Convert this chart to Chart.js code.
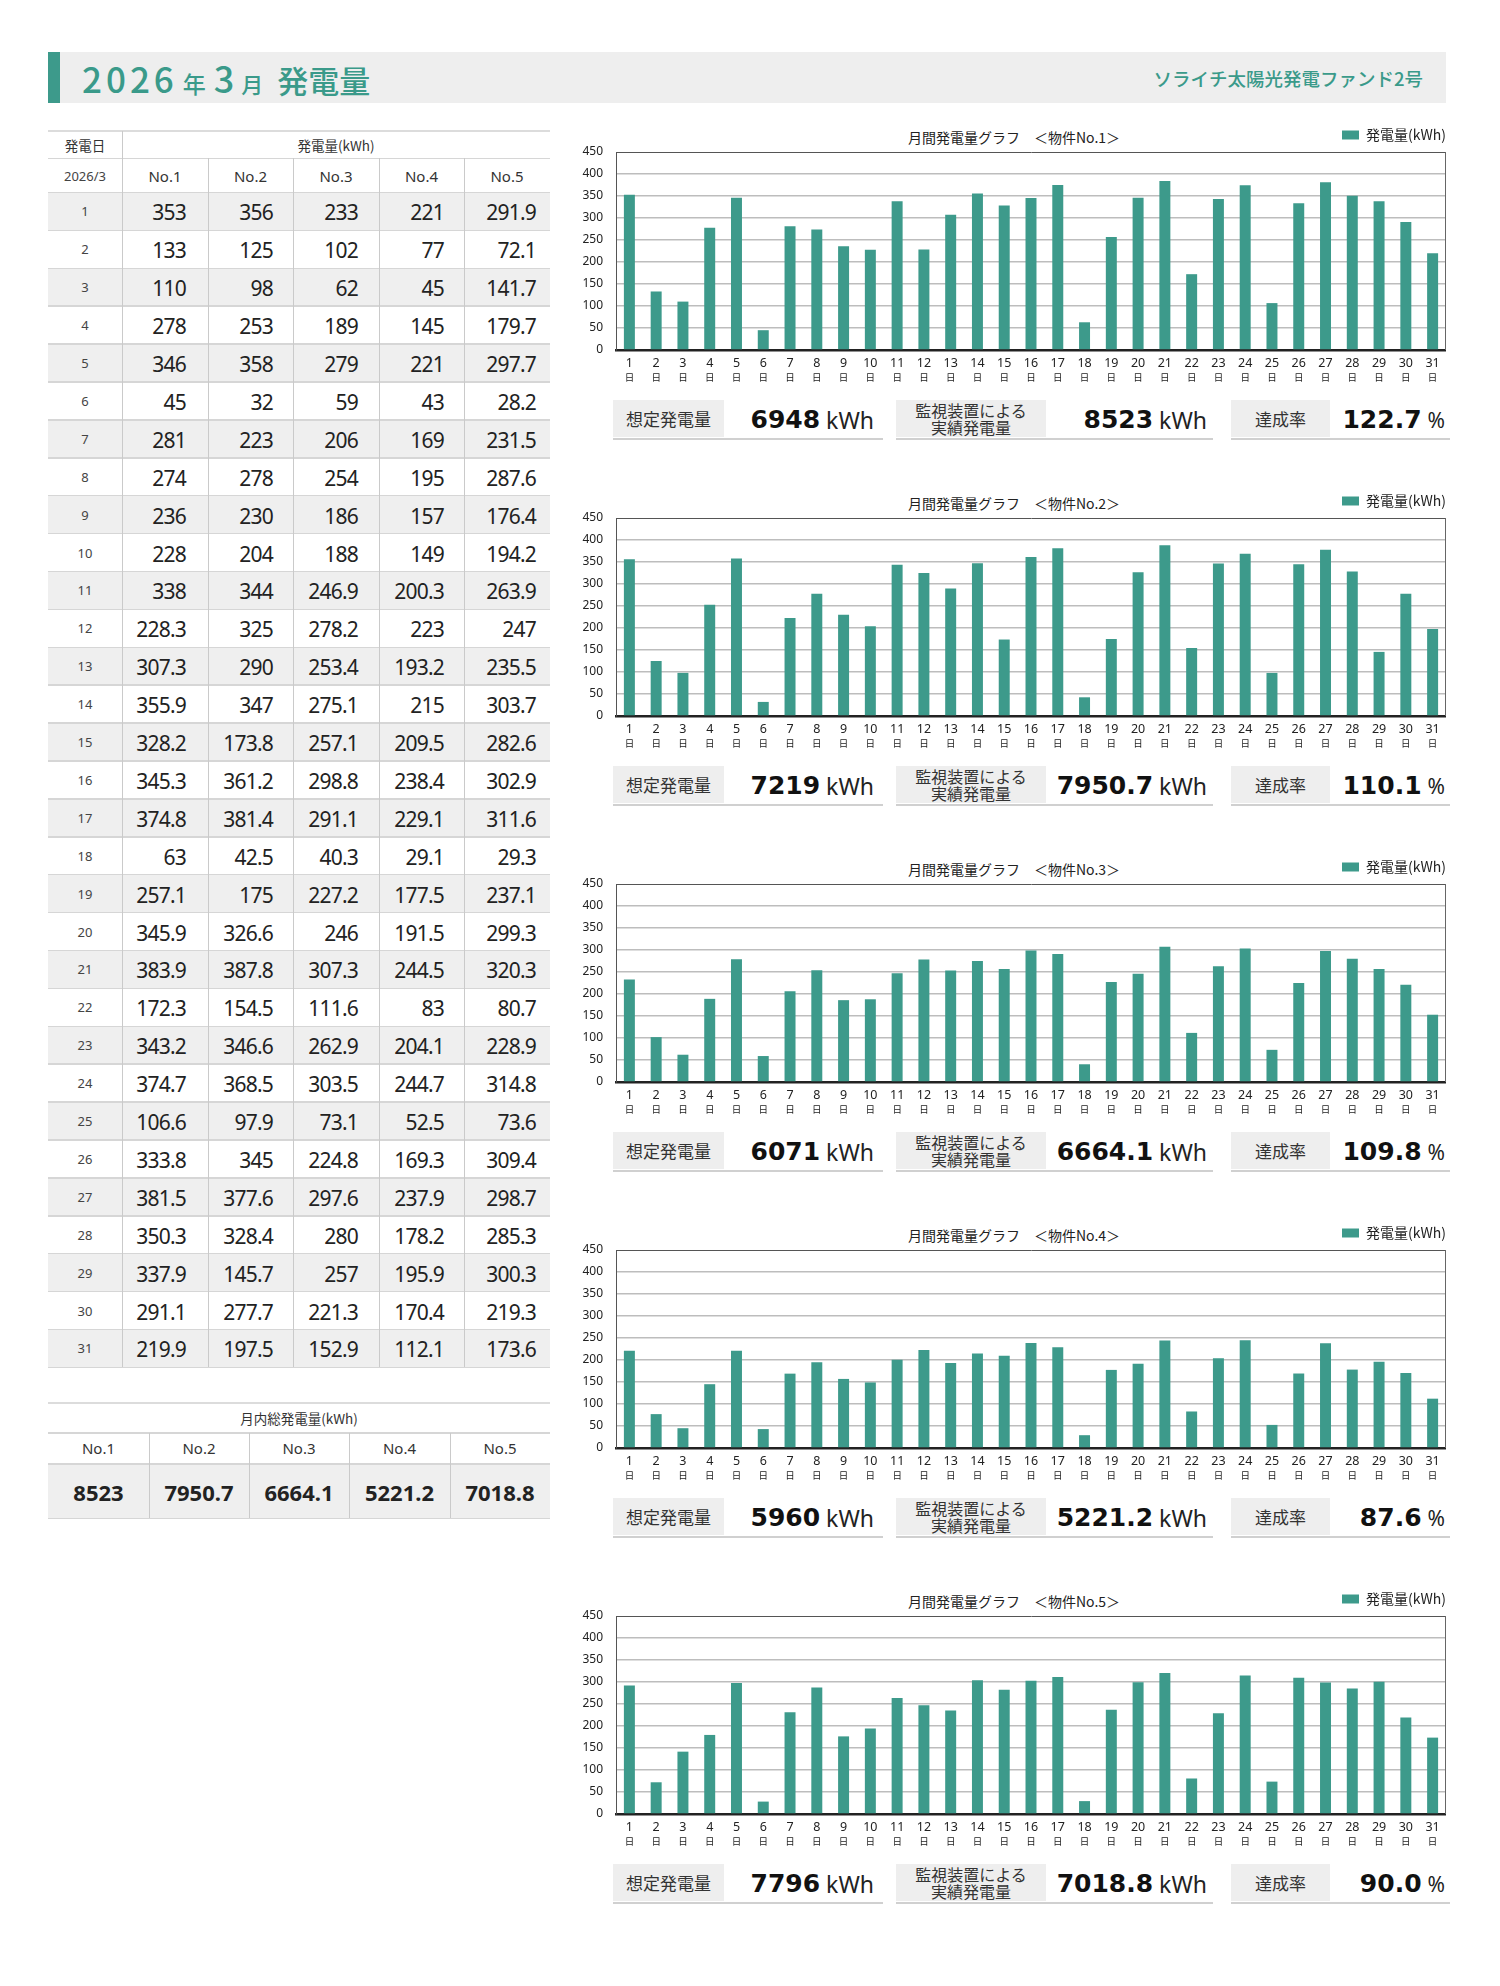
<!DOCTYPE html>
<html><head><meta charset="utf-8">
<script src="https://cdn.jsdelivr.net/npm/chart.js@4.4.1/dist/chart.umd.min.js"></script>
<style>
html,body{margin:0;padding:0;background:#fff;}
body{width:1500px;height:1986px;position:relative;overflow:hidden;font-family:"Noto Sans","Noto Sans CJK JP",sans-serif;color:#222;}
#page{position:absolute;left:0;top:0;width:1500px;height:1986px;}
canvas{position:absolute;}
</style></head><body>
<div id="page"></div>
<script>
// ---------------- DATA ----------------
const pageTitleYear = '2026';
const pageTitleMonth = '3';
const fundName = 'ソライチ太陽光発電ファンド2号';
const monthLabel = '2026/3';
const plantNames = ['No.1', 'No.2', 'No.3', 'No.4', 'No.5'];
const dayLabels = ['1','2','3','4','5','6','7','8','9','10','11','12','13','14','15','16','17','18','19','20','21','22','23','24','25','26','27','28','29','30','31'];
const dayUnitLabels = ['日','日','日','日','日','日','日','日','日','日','日','日','日','日','日','日','日','日','日','日','日','日','日','日','日','日','日','日','日','日','日'];
const yTicks = [0, 50, 100, 150, 200, 250, 300, 350, 400, 450];

const no1 = [353,133,110,278,346,45,281,274,236,228,338,228.3,307.3,355.9,328.2,345.3,374.8,63,257.1,345.9,383.9,172.3,343.2,374.7,106.6,333.8,381.5,350.3,337.9,291.1,219.9];
const no2 = [356,125,98,253,358,32,223,278,230,204,344,325,290,347,173.8,361.2,381.4,42.5,175,326.6,387.8,154.5,346.6,368.5,97.9,345,377.6,328.4,145.7,277.7,197.5];
const no3 = [233,102,62,189,279,59,206,254,186,188,246.9,278.2,253.4,275.1,257.1,298.8,291.1,40.3,227.2,246,307.3,111.6,262.9,303.5,73.1,224.8,297.6,280,257,221.3,152.9];
const no4 = [221,77,45,145,221,43,169,195,157,149,200.3,223,193.2,215,209.5,238.4,229.1,29.1,177.5,191.5,244.5,83,204.1,244.7,52.5,169.3,237.9,178.2,195.9,170.4,112.1];
const no5 = [291.9,72.1,141.7,179.7,297.7,28.2,231.5,287.6,176.4,194.2,263.9,247,235.5,303.7,282.6,302.9,311.6,29.3,237.1,299.3,320.3,80.7,228.9,314.8,73.6,309.4,298.7,285.3,300.3,219.3,173.6];

const monthlyTotals = ['8523', '7950.7', '6664.1', '5221.2', '7018.8'];
const plannedKwh = ['6948', '7219', '6071', '5960', '7796'];
const achievementPct = ['122.7', '110.1', '109.8', '87.6', '90.0'];
const seriesLabel = '発電量(kWh)';

const series = [no1, no2, no3, no4, no5];

// ---------------- STYLE ----------------
const TEAL = '#3d9a8b';
const TEAL_TEXT = '#3a9a8a';
const GRAY_BG = '#eeeeee';
const CJK = '"Noto Sans CJK JP","Noto Sans",sans-serif';
const CJKQ = "'Noto Sans CJK JP','Noto Sans',sans-serif";
const NUMF = '"Noto Sans",sans-serif';

const page = document.getElementById('page');
function box(x, y, w, h, css) {
  const d = document.createElement('div');
  d.style.cssText = `position:absolute;left:${x}px;top:${y}px;width:${w}px;height:${h}px;${css || ''}`;
  page.appendChild(d);
  return d;
}
function cell(x, y, w, h, text, css, justify) {
  const d = box(x, y, w, h, `display:flex;align-items:center;justify-content:${justify || 'center'};white-space:nowrap;${css || ''}`);
  d.textContent = text;
  return d;
}

// ---------------- HEADER ----------------
box(48, 52, 1398, 51, `background:${GRAY_BG}`);
box(48, 52, 12, 51, `background:${TEAL}`);
const ttl = box(82, 52, 520, 51, `line-height:51px;white-space:nowrap;color:${TEAL_TEXT};font-family:${CJKQ};font-weight:500;`);
ttl.innerHTML =
  `<span style="font-size:35px;letter-spacing:4px">${pageTitleYear}</span>` +
  `<span style="font-size:23px;margin-left:5px">年</span>` +
  `<span style="font-size:36px;margin-left:8px">${pageTitleMonth}</span>` +
  `<span style="font-size:22px;margin-left:7px">月</span>` +
  `<span style="font-size:31px;margin-left:14px">発電量</span>`;
cell(900, 52, 523, 51, fundName, `color:${TEAL_TEXT};font-size:18.5px;font-weight:500;font-family:${CJK}`, 'flex-end');

// ---------------- DAILY TABLE ----------------
const colX = [48, 122, 208, 293, 379, 464, 550];
const padR = [22, 20, 21, 20, 14];
const rowTop = 192.5;
const rowH = 37.9;
const tableBottom = rowTop + rowH * dayLabels.length;
const LINE = '#d6d6d6';
const VLINE = '#cacaca';

for (let i = 0; i < dayLabels.length; i++) {
  const y = rowTop + rowH * i;
  if (i % 2 === 0) box(48, y, 502, rowH, `background:#efefef`);
}
box(48, 130, 502, 2, `background:#dcdcdc`);
box(48, 157.5, 502, 1.5, `background:${LINE}`);
box(48, 191.5, 502, 1.5, `background:${LINE}`);
for (let i = 0; i < dayLabels.length; i++) {
  box(48, rowTop + rowH * (i + 1) - 0.75, 502, 1.5, `background:${LINE}`);
}
box(122, 131, 1, tableBottom - 131, `background:${VLINE}`);
for (let c = 2; c <= 5; c++) box(colX[c], 158, 1, tableBottom - 158, `background:${VLINE}`);

cell(48, 132, 74, 26, '発電日', `font-size:13.5px;font-family:${CJK};color:#333`);
cell(122, 132, 428, 26, '発電量(kWh)', `font-size:13.5px;font-family:${CJK};color:#333`);
cell(48, 159, 74, 33, monthLabel, `font-size:13px;color:#444`);
for (let c = 0; c < 5; c++) {
  cell(colX[c + 1], 159, colX[c + 2] - colX[c + 1], 33, plantNames[c], `font-size:15px;color:#333`);
}
for (let i = 0; i < dayLabels.length; i++) {
  const y = rowTop + rowH * i;
  cell(48, y, 74, rowH, dayLabels[i], `font-size:13px;color:#444`);
  for (let c = 0; c < 5; c++) {
    const w = colX[c + 2] - colX[c + 1] - padR[c];
    cell(colX[c + 1], y + 1, w, rowH, String(series[c][i]), `font-size:21px;letter-spacing:-0.8px;font-family:${NUMF};color:#222`, 'flex-end');
  }
}

// ---------------- TOTALS TABLE ----------------
const tx = [48, 149, 249, 349, 450, 550];
box(48, 1402, 502, 2, `background:#dcdcdc`);
cell(48, 1403, 502, 29, '月内総発電量(kWh)', `font-size:13.5px;font-family:${CJK};color:#333`);
box(48, 1432, 502, 1.5, `background:${LINE}`);
box(48, 1463.5, 502, 55, `background:#efefef`);
box(48, 1463, 502, 1.5, `background:${LINE}`);
box(48, 1517.5, 502, 1.5, `background:${LINE}`);
for (let c = 1; c <= 4; c++) box(tx[c], 1433, 1, 85, `background:${VLINE}`);
for (let c = 0; c < 5; c++) {
  cell(tx[c], 1433, tx[c + 1] - tx[c], 30, plantNames[c], `font-size:15px;color:#333`);
  cell(tx[c], 1465, tx[c + 1] - tx[c], 54, monthlyTotals[c], `font-size:22px;font-weight:700;font-family:'Noto Sans',sans-serif;color:#222`);
}

// ---------------- CHARTS ----------------
Chart.defaults.font.family = '"Noto Sans","Noto Sans CJK JP",sans-serif';
Chart.defaults.color = '#222';

const framePlugin = {
  id: 'frame',
  afterDraw(chart) {
    const a = chart.chartArea, c = chart.ctx;
    c.save();
    c.strokeStyle = '#666';
    c.lineWidth = 1;
    c.beginPath();
    c.moveTo(a.right - 0.5, a.top);
    c.lineTo(a.right - 0.5, a.bottom);
    c.stroke();
    c.restore();
  }
};

for (let k = 0; k < 5; k++) {
  const T = 152 + 366 * k;
  // chart title
  cell(864, T - 24, 300, 18, `月間発電量グラフ　＜物件${plantNames[k]}＞`, `font-size:14px;font-family:${CJK};color:#222`);

  const cv = document.createElement('canvas');
  cv.width = 886; cv.height = 259;
  cv.style.left = '560px'; cv.style.top = (T - 24) + 'px';
  cv.style.width = '886px'; cv.style.height = '259px';
  page.appendChild(cv);

  new Chart(cv, {
    type: 'bar',
    data: {
      labels: dayLabels,
      datasets: [{
        label: seriesLabel,
        data: series[k],
        backgroundColor: TEAL,
        borderWidth: 0,
        barPercentage: 0.41,
        categoryPercentage: 1,
        xAxisID: 'x',
        yAxisID: 'y'
      }]
    },
    options: {
      responsive: false,
      animation: false,
      devicePixelRatio: 1,
      layout: { padding: 0 },
      plugins: {
        legend: {
          position: 'top', align: 'end',
          labels: { boxWidth: 17, boxHeight: 9, padding: 0, color: '#222', font: { size: 14, family: CJK } }
        },
        title: { display: false },
        tooltip: { enabled: false }
      },
      scales: {
        x: {
          type: 'category', position: 'bottom', weight: 0, offset: true,
          grid: { display: false, drawTicks: false },
          border: { display: true, color: '#222', width: 2.5 },
          ticks: { padding: 6, color: '#222', font: { size: 12.5 }, maxRotation: 0, autoSkip: false },
          afterFit(s) { s.height = 21; }
        },
        x2: {
          type: 'category', labels: dayUnitLabels, position: 'bottom', weight: 1, offset: true,
          grid: { display: false, drawTicks: false },
          border: { display: false },
          ticks: { padding: 1, color: '#222', font: { size: 9.5, family: CJK }, maxRotation: 0, autoSkip: false },
          afterFit(s) { s.height = 16; }
        },
        y: {
          min: 0, max: 450,
          afterBuildTicks(s) { s.ticks = yTicks.map(v => ({ value: v })); },
          ticks: { padding: 13, color: '#222', font: { size: 12 } },
          grid: {
            drawTicks: false,
            color: (c) => c.tick.value === 0 ? 'rgba(0,0,0,0)' : (c.tick.value === 450 ? '#555' : '#bdbdbd'),
            lineWidth: (c) => c.tick.value === 450 ? 1 : 1.5
          },
          border: { display: true, color: '#555', width: 1 },
          afterFit(s) { s.width = 56; }
        }
      }
    },
    plugins: [framePlugin]
  });

  // summary row
  const bt = T + 248;
  // box 1
  cell(613, bt, 111, 37, '想定発電量', `background:${GRAY_BG};font-size:17px;font-family:${CJK};color:#333`);
  const g1 = cell(724, bt + 1, 150, 37, '', '', 'flex-end');
  g1.innerHTML = `<span style="font-family:'DejaVu Sans';font-weight:700;font-size:25px;color:#111">${plannedKwh[k]}</span><span style="font-size:23px;margin-left:6px;color:#222">kWh</span>`;
  box(613, bt + 38, 270, 2, `background:#d0d0d0`);
  // box 2
  const b2 = cell(896, bt, 150, 37, '', `background:${GRAY_BG};font-size:16px;font-family:${CJK};color:#333;text-align:center;line-height:1.05;white-space:normal`);
  b2.innerHTML = '監視装置による<br>実績発電量';
  const g2 = cell(1046, bt + 1, 161, 37, '', '', 'flex-end');
  g2.innerHTML = `<span style="font-family:'DejaVu Sans';font-weight:700;font-size:25px;color:#111">${monthlyTotals[k]}</span><span style="font-size:23px;margin-left:6px;color:#222">kWh</span>`;
  box(896, bt + 38, 317, 2, `background:#d0d0d0`);
  // box 3
  cell(1231, bt, 99, 37, '達成率', `background:${GRAY_BG};font-size:17px;font-family:${CJK};color:#333`);
  const g3 = cell(1330, bt + 1, 115, 37, '', '', 'flex-end');
  g3.innerHTML = `<span style="font-family:'DejaVu Sans';font-weight:700;font-size:25px;color:#111">${achievementPct[k]}</span><span style="font-size:21px;margin-left:6px;color:#222">%</span>`;
  box(1231, bt + 38, 219, 2, `background:#d0d0d0`);
}
</script>
</body></html>
